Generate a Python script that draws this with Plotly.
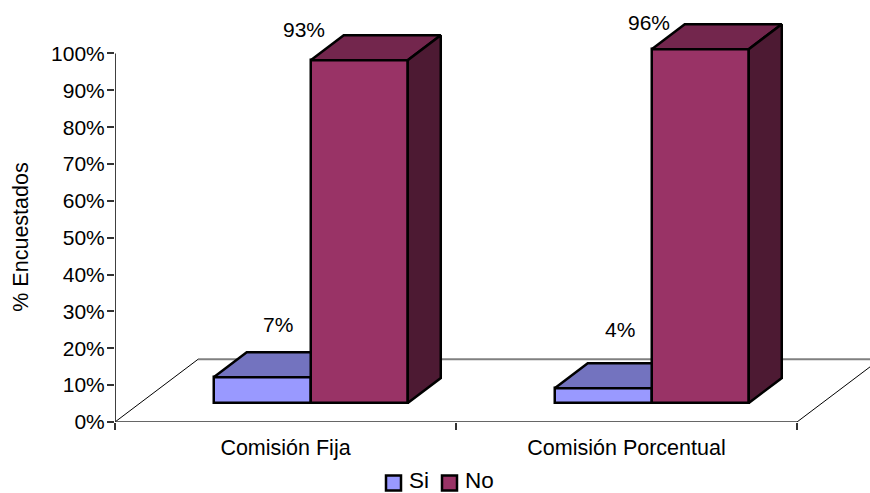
import plotly.graph_objects as go

# Survey results, percent of respondents per commission type
categories = ["Comisión Fija", "Comisión Porcentual"]
series_names = ["Si", "No"]
si_values = [7, 4]
no_values = [93, 96]
y_tick_values = [0, 10, 20, 30, 40, 50, 60, 70, 80, 90, 100]
y_tick_labels = [f"{v}%" for v in y_tick_values]

WIDTH, HEIGHT = 870, 493
LEFT, BOTTOM = 115, 70.5
FONT = "Liberation Sans"
X_MAX = 755 / 341
Y_MAX = 114.5

# Oblique projection of the chart: bar sizes and depths in axis units
BAR_W = 0.2845
GROUP_CENTER = 0.574
BAR_BASE = 5.16
BAR_DX, BAR_DY = 0.0968, 6.75
FLOOR_DX, FLOOR_DY = 0.2434, 17.0

COLORS = {
    "Si": {"front": "#9999FF", "top": "#7373BF"},
    "No": {"front": "#993366", "top": "#73264D", "side": "#4D1A33"},
}
OUTLINE = dict(color="#000000", width=2.5)


def px_x(px):
    return (px - LEFT) / (WIDTH - LEFT)


def px_y(py):
    return (HEIGHT - BOTTOM - py) / (HEIGHT - BOTTOM)


fig = go.Figure()


def polygon(xs, ys, color, name):
    fig.add_trace(go.Scatter(
        x=xs + xs[:1], y=ys + ys[:1], mode="lines", fill="toself", fillcolor=color,
        line=OUTLINE, showlegend=False, hoverinfo="skip", name=name,
    ))


si_x = [i + GROUP_CENTER - BAR_W / 2 for i in range(len(categories))]
no_x = [i + GROUP_CENTER + BAR_W / 2 for i in range(len(categories))]

for name, xs, vals in (("Si", si_x, si_values), ("No", no_x, no_values)):
    fig.add_trace(go.Bar(
        x=xs, y=vals, base=[BAR_BASE] * len(vals), width=BAR_W, name=name,
        marker=dict(color=COLORS[name]["front"], line=OUTLINE), showlegend=False,
    ))

for x, v in zip(si_x, si_values):
    # The top of the short bar stops at the front face of its taller neighbour
    left, right = x - BAR_W / 2, x + BAR_W / 2
    top = BAR_BASE + v
    polygon([left, right, right, left + BAR_DX],
            [top, top, top + BAR_DY, top + BAR_DY], COLORS["Si"]["top"], "Si top")

for x, v in zip(no_x, no_values):
    left, right = x - BAR_W / 2, x + BAR_W / 2
    top = BAR_BASE + v
    polygon([left, right, right + BAR_DX, left + BAR_DX],
            [top, top, top + BAR_DY, top + BAR_DY], COLORS["No"]["top"], "No top")
    polygon([right, right + BAR_DX, right + BAR_DX, right],
            [BAR_BASE, BAR_BASE + BAR_DY, top + BAR_DY, top], COLORS["No"]["side"], "No side")

shapes = [
    # Floor of the chart, behind the bars
    dict(type="line", x0=FLOOR_DX, y0=FLOOR_DY, x1=X_MAX, y1=FLOOR_DY, line=dict(color="#808080", width=2), layer="below"),
    dict(type="line", x0=0, y0=0, x1=FLOOR_DX, y1=FLOOR_DY, line=dict(color="#000000", width=1), layer="below"),
    dict(type="line", x0=2, y0=0, x1=2 + FLOOR_DX, y1=FLOOR_DY, line=dict(color="#000000", width=1), layer="below"),
    # Axis lines
    dict(type="line", x0=0, y0=0, x1=0, y1=100, line=dict(color="#000000", width=1.5), layer="below"),
    dict(type="line", x0=0, y0=0, x1=2, y1=0, line=dict(color="#333333", width=1.5), layer="below"),
]

annotations = []

# Value labels sit at hand-tuned offsets from each bar's top
label_offsets = {
    "Si": [(16, 53), (17, 59)],
    "No": [(-55, 31), (-51, 27)],
}
for name, xs, vals in (("Si", si_x, si_values), ("No", no_x, no_values)):
    for x, v, (dx, dy) in zip(xs, vals, label_offsets[name]):
        annotations.append(dict(
            x=x, y=BAR_BASE + v, xref="x", yref="y", text=f"{v}%", showarrow=False,
            xshift=dx, yshift=dy, font=dict(family=FONT, size=21, color="#000000"),
        ))

annotations.append(dict(
    x=px_x(21), y=px_y(238), xref="paper", yref="paper", text="% Encuestados", textangle=-90,
    xanchor="center", yanchor="middle", showarrow=False,
    font=dict(family=FONT, size=21.5, color="#000000"),
))

# Legend row below the category labels
legend_items = [("Si", 385, 407), ("No", 441, 463)]
for name, box_x, text_x in legend_items:
    shapes.append(dict(
        type="rect", xref="paper", yref="paper",
        x0=px_x(box_x + 1), x1=px_x(box_x + 16), y0=px_y(476), y1=px_y(491),
        fillcolor=COLORS[name]["front"], line=dict(color="#000000", width=2.5),
    ))
    annotations.append(dict(
        x=px_x(text_x), y=px_y(481), xref="paper", yref="paper", text=name,
        xanchor="left", yanchor="middle",
        showarrow=False, font=dict(family=FONT, size=22.5, color="#000000"),
    ))

fig.update_layout(
    width=WIDTH, height=HEIGHT,
    margin=dict(l=LEFT, r=0, t=0, b=BOTTOM, autoexpand=False),
    paper_bgcolor="white", plot_bgcolor="white",
    barmode="overlay", showlegend=False, bargap=0,
    shapes=shapes, annotations=annotations,
    font=dict(family=FONT, color="#000000"),
    xaxis=dict(
        range=[0, X_MAX], showgrid=False, zeroline=False, showline=False,
        tickvals=[i + 0.5 for i in range(len(categories))], ticktext=categories,
        ticks="", ticklabelstandoff=10, tickfont=dict(family=FONT, size=21.5, color="#000000"),
        minor=dict(tickvals=list(range(len(categories) + 1)), ticks="outside", ticklen=7,
                   tickwidth=1.5, tickcolor="#333333", showgrid=False),
    ),
    yaxis=dict(
        range=[0, Y_MAX], showgrid=False, zeroline=False, showline=False,
        tickvals=y_tick_values, ticktext=y_tick_labels, ticks="outside", ticklen=7,
        ticklabelstandoff=-2,
        tickwidth=1.5, tickcolor="#333333", tickfont=dict(family=FONT, size=21, color="#000000"),
    ),
)

fig.write_html("out.html", config=dict(displayModeBar=False))
